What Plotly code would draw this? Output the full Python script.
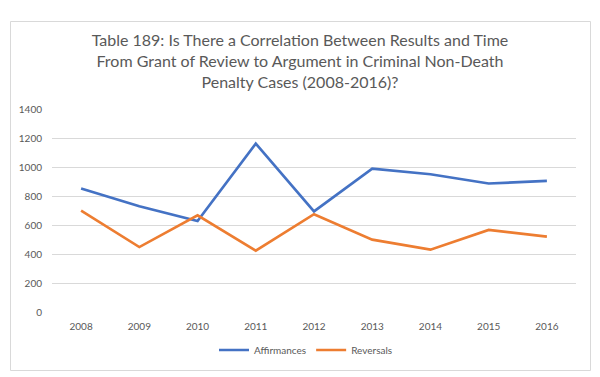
import plotly.graph_objects as go

years = ["2008", "2009", "2010", "2011", "2012", "2013", "2014", "2015", "2016"]
affirmances = [851, 729, 628, 1161, 694, 989, 950, 886, 904]
reversals = [699, 448, 667, 423, 674, 499, 430, 566, 520]
y_ticks = [0, 200, 400, 600, 800, 1000, 1200, 1400]

title_text = ("Table 189: Is There a Correlation Between Results and Time<br>"
              "From Grant of Review to Argument in Criminal Non-Death<br>"
              "Penalty Cases (2008-2016)?")

fig = go.Figure()
fig.add_trace(go.Scatter(x=years, y=affirmances, mode="lines", name="Affirmances",
                         line=dict(color="#4472C4", width=2.6)))
fig.add_trace(go.Scatter(x=years, y=reversals, mode="lines", name="Reversals",
                         line=dict(color="#ED7D31", width=2.6)))

L, R, T, B = 52, 24, 109, 65
W, H = 600, 377
pw, ph = W - L - R, H - T - B

def px_x(x):
    return (x - L) / pw

def px_y(y):
    return (H - B - y) / ph

fig.add_shape(type="rect", xref="paper", yref="paper",
              x0=px_x(10.5), x1=px_x(590.5), y0=px_y(370.5), y1=px_y(21.5),
              line=dict(color="#D9D9D9", width=1), fillcolor="rgba(0,0,0,0)", layer="below")

fig.update_layout(
    width=W, height=H,
    margin=dict(l=L, r=R, t=T, b=B),
    paper_bgcolor="white", plot_bgcolor="white",
    font=dict(family="Lato, Carlito, Calibri, sans-serif", color="#595959"),
    title=dict(text=title_text, x=0.5, xanchor="center", y=1 - 46 / H, yanchor="middle",
               font=dict(size=16, color="#595959")),
    xaxis=dict(type="category", range=[-0.5, len(years) - 0.5], showgrid=False,
               showline=False, ticks="", zeroline=False, ticklabelstandoff=7,
               tickfont=dict(size=10, color="#595959")),
    yaxis=dict(range=[0, 1400], tickvals=y_ticks, showgrid=True, gridcolor="#D9D9D9",
               gridwidth=1, zeroline=False, showline=False, ticks="",
               ticklabelstandoff=9,
               tickfont=dict(size=10, color="#595959")),
    legend=dict(orientation="h", x=px_x(306), xanchor="center", y=px_y(350), yanchor="middle",
                font=dict(size=10, color="#595959"), itemwidth=30, tracegroupgap=0),
    showlegend=True,
)

fig.write_html("out.html", config={"displayModeBar": False},
               post_script="document.body.style.margin='0';")
